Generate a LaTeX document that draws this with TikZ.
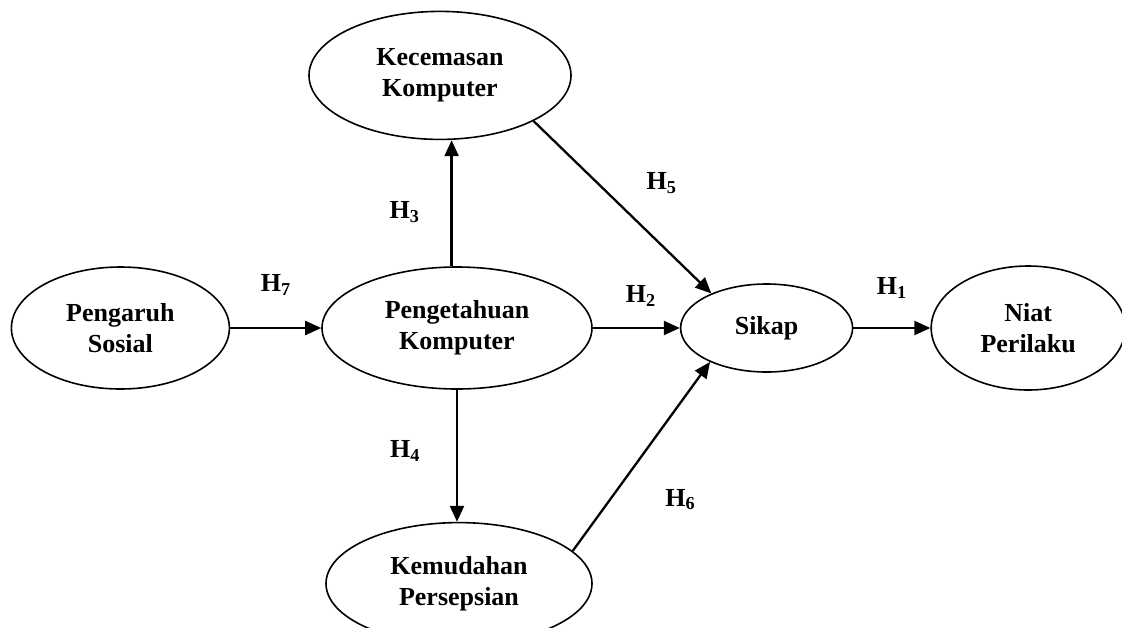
\documentclass[tikz,border=0pt]{standalone}
\usepackage{fontspec}
\setmainfont{Liberation Serif}
\usetikzlibrary{shapes,arrows.meta,positioning,calc}

\begin{document}
\begin{tikzpicture}[
    node distance=1cm,
    >={Triangle[length=16pt,width=14pt]},
    var/.style={ellipse, draw, line width=1.6pt, inner sep=0pt, align=center, font=\fontsize{26}{31}\selectfont\bfseries},
    hyp/.style={inner sep=0pt, font=\fontsize{26}{31}\selectfont\bfseries},
    link/.style={->, line width=2.3pt}
]
    \useasboundingbox (0,0) rectangle (1122pt,-627pt);

    % Variables
    \node[var, minimum width=270pt, minimum height=122pt] (pengetahuan) at (457pt,-328pt) {Pengetahuan\\Komputer};
    \node[var, minimum width=218pt, minimum height=122pt, left=91pt of pengetahuan] (pengaruh) {Pengaruh\\Sosial};
    \node[var, minimum width=262pt, minimum height=128pt, above=126pt of pengetahuan, xshift=-17pt] (kecemasan) {Kecemasan\\Komputer};
    \node[var, minimum width=266pt, minimum height=122pt, below=132pt of pengetahuan, xshift=2pt] (kemudahan) {Kemudahan\\Persepsian};
    \node[var, minimum width=172pt, minimum height=88pt, right=87pt of pengetahuan] (sikap) {Sikap};
    \node[var, minimum width=194pt, minimum height=124pt, right=77pt of sikap] (niat) {Niat\\Perilaku};

    % Hypotheses
    \draw[link] (pengaruh) -- node[hyp, yshift=43pt] (h7) {H\textsubscript{7}} (pengetahuan);
    \draw[link] (pengetahuan.95) -- node[hyp, xshift=-47pt, yshift=-9pt] (h3) {H\textsubscript{3}} (pengetahuan.95 |- kecemasan.south);
    \draw[link] (pengetahuan.south) -- node[hyp, xshift=-52pt, yshift=5pt] (h4) {H\textsubscript{4}} (pengetahuan.south |- kemudahan.north);
    \draw[link] (kecemasan.-26) -- node[hyp, xshift=39pt, yshift=24pt] (h5) {H\textsubscript{5}} (sikap.148);
    \draw[link] (pengetahuan) -- node[hyp, xshift=4.5pt, yshift=32pt] (h2) {H\textsubscript{2}} (sikap);
    \draw[link] (kemudahan.16) -- node[hyp, xshift=39pt, yshift=-43pt] (h6) {H\textsubscript{6}} (sikap.211);
    \draw[link] (sikap) -- node[hyp, yshift=40pt] (h1) {H\textsubscript{1}} (niat);
\end{tikzpicture}
\end{document}
